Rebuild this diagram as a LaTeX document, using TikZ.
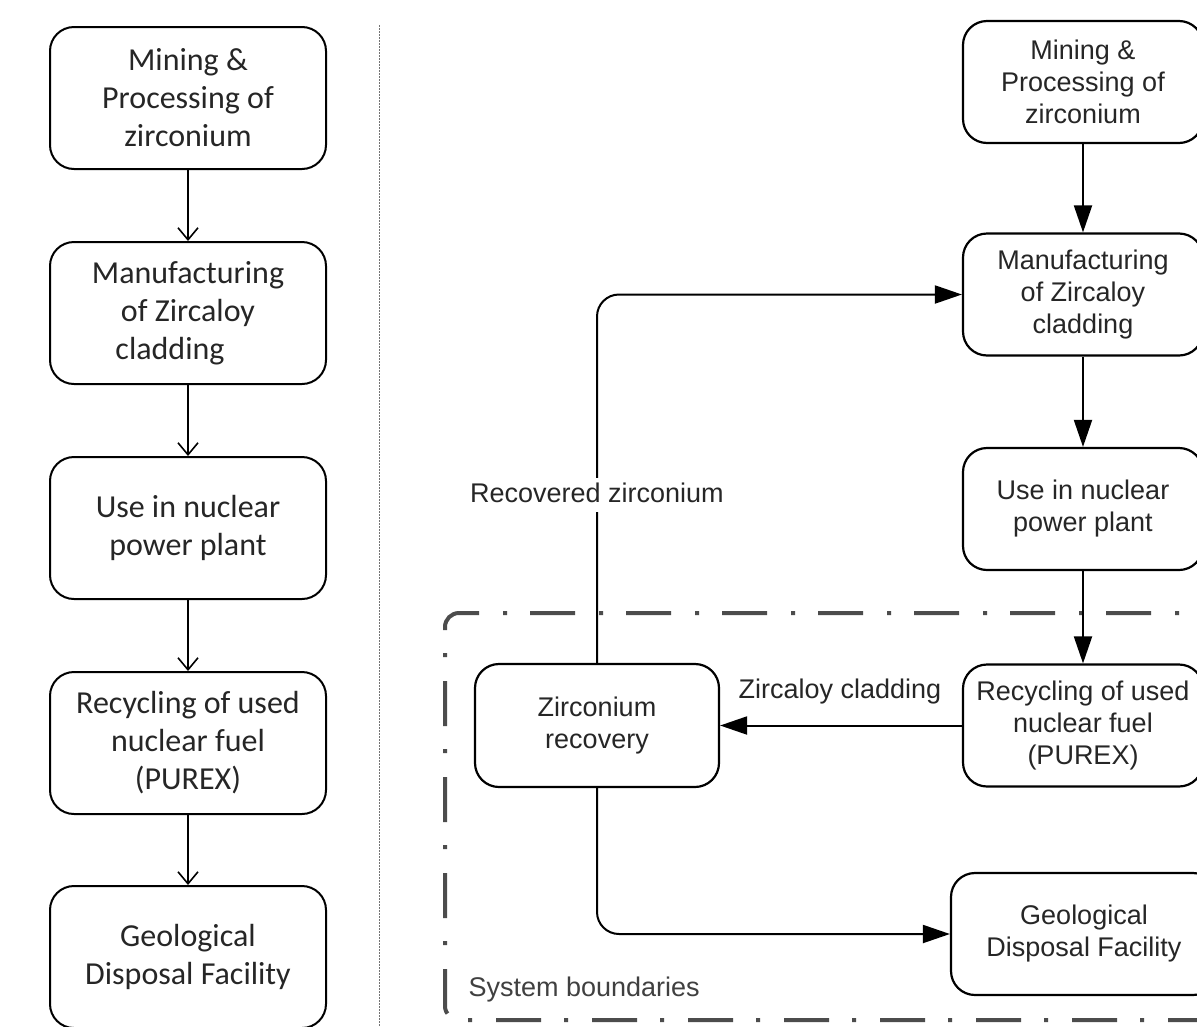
\documentclass[tikz,border=0pt]{standalone}
\usepackage{fontspec}
\setmainfont{Liberation Sans}
\newfontfamily\carlito{Carlito}
\usetikzlibrary{arrows.meta}
\tikzset{
  lbox/.style={draw, line width=2pt, rounded corners=24pt, minimum width=276pt, minimum height=142pt,
    inner sep=0pt, align=center, font=\carlito\fontsize{32}{38}\selectfont, text=black!85},
  rbox/.style={draw, line width=2.2pt, rounded corners=24pt, minimum width=240pt, minimum height=122pt,
    inner sep=0pt, align=center, font=\fontsize{27}{32}\selectfont, text=black!85},
  larr/.style={line width=1.6pt, -{Straight Barb[length=12pt,width=20pt,line width=1.6pt]}},
  rarr/.style={line width=2pt, -{Triangle[length=27pt,width=18pt]}},
  rline/.style={line width=2pt},
  lbl/.style={font=\fontsize{27}{32}\selectfont, text=black!85},
  bnd/.style={draw=black!70, line width=4pt, rounded corners=14pt,
    dash pattern=on 45pt off 23pt on 4pt off 24pt},
}
\begin{document}
\begin{tikzpicture}[x=1pt,y=-1pt]
\useasboundingbox (0,0) rectangle (1197,1026);
\clip (0,0) rectangle (1197,1026);
\fill[white] (0,0) rectangle (1197,1026);

% left column
\node[lbox] (l1) at (188,98) {Mining \&\\Processing of\\zirconium};
\node[lbox] (l2) at (188,313) {Manufacturing\\of Zircaloy\\cladding\hspace*{36pt}};
\node[lbox] (l3) at (188,528) {Use in nuclear\\power plant};
\node[lbox] (l4) at (188,743) {Recycling of used\\nuclear fuel\\(PUREX)};
\node[lbox] (l5) at (188,957) {Geological\\Disposal Facility};
\draw[larr] (l1) -- (l2);
\draw[larr] (l2) -- (l3);
\draw[larr] (l3) -- (l4);
\draw[larr] (l4) -- (l5);

% divider
\coordinate (dtop) at (379,25);
\coordinate (dbot) at (379,1026);
\draw[black!55, line width=1pt, dash pattern=on 1.5pt off 1.5pt] (dtop) -- (dbot);

% system boundary
\draw[bnd] (1247,613) -- (445,613) -- (445,1020) -- (1260,1020);
\node[lbl, anchor=west, text=black!75] (sb) at (465,990) {System boundaries};

% right column
\node[rbox] (r1) at (1083,82) {Mining \&\\Processing of\\zirconium};
\node[rbox] (r2) at (1083,294.5) {Manufacturing\\of Zircaloy\\cladding};
\node[rbox] (r3) at (1083,509) {Use in nuclear\\power plant};
\node[rbox] (r4) at (1083,725.5) {Recycling of used\\nuclear fuel\\(PUREX)};
\node[rbox, minimum width=266pt] (r5) at (1084,934) {Geological\\Disposal Facility};
\node[rbox, minimum width=244pt, minimum height=123pt] (zr) at (597,725.5) {Zirconium\\recovery};

\draw[rarr] (r1) -- (r2);
\draw[rarr] (r2) -- (r3);
\draw[rarr] (r3) -- (r4);
\draw[rarr] (r4) -- (zr);
\node[lbl] (zcl) at (840,692) {Zircaloy cladding};
\draw[rarr, rounded corners=22pt] (zr.north) |- (r2.west);
\node[lbl, fill=white, text height=20pt, text depth=6pt, inner sep=4pt] (rz) at (597,495) {Recovered zirconium};
\draw[rarr, rounded corners=22pt] (zr.south) |- (r5.west);
\end{tikzpicture}
\end{document}
